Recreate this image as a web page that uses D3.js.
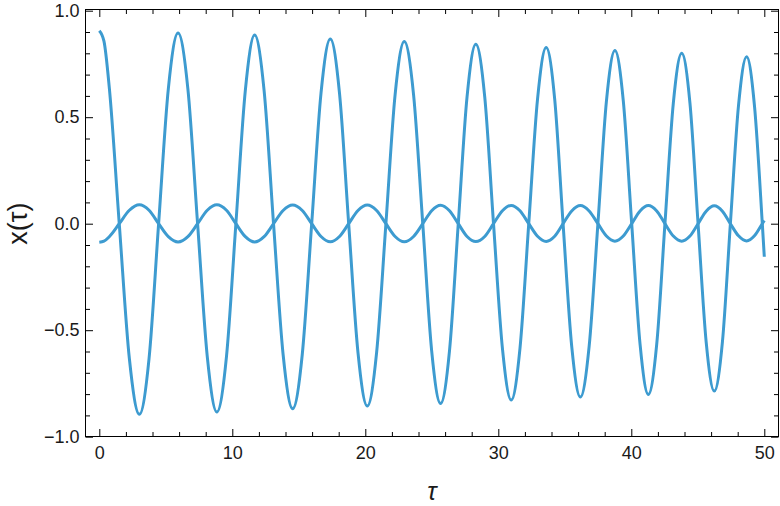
<!DOCTYPE html>
<html>
<head>
<meta charset="utf-8">
<script src="https://cdn.jsdelivr.net/npm/d3@7"></script>
<style>
  html, body { margin: 0; padding: 0; background: #fff; }
  svg { display: block; }
</style>
</head>
<body>
<svg id="chart" width="780" height="506"></svg>
<script>
// ---------------- data ----------------
const largeTau = [0.00,0.35,0.75,1.50,2.26,3.01,3.74,4.46,5.19,5.92,6.66,7.39,8.12,8.84,9.56,10.27,10.98,11.68,12.39,13.10,13.82,14.54,15.26,15.97,16.67,17.37,18.06,18.75,19.45,20.15,20.85,21.55,22.24,22.93,23.63,24.32,24.99,25.66,26.33,26.99,27.65,28.31,28.98,29.64,30.31,30.97,31.63,32.29,32.95,33.60,34.24,34.87,35.52,36.17,36.83,37.49,38.13,38.77,39.40,40.03,40.66,41.28,41.91,42.53,43.16,43.79,44.41,45.02,45.63,46.24,46.85,47.45,48.06,48.67,49.26,49.85,50.00];
const largeX = [0.906,0.857,0.640,0.000,-0.633,-0.895,-0.633,0.000,0.633,0.895,0.633,0.000,-0.625,-0.884,-0.625,0.000,0.626,0.886,0.626,0.000,-0.614,-0.869,-0.614,0.000,0.613,0.867,0.613,0.000,-0.605,-0.856,-0.605,0.000,0.605,0.855,0.605,0.000,-0.597,-0.844,-0.597,0.000,0.595,0.842,0.595,0.000,-0.585,-0.828,-0.585,0.000,0.585,0.827,0.585,0.000,-0.576,-0.814,-0.576,0.000,0.575,0.813,0.575,0.000,-0.567,-0.802,-0.567,0.000,0.566,0.800,0.566,0.000,-0.556,-0.786,-0.556,0.000,0.554,0.784,0.554,0.000,-0.155];

const smallTau = [0.00,0.35,0.75,1.50,2.26,3.01,3.74,4.46,5.19,5.92,6.66,7.39,8.12,8.84,9.56,10.27,10.98,11.68,12.39,13.10,13.82,14.54,15.26,15.97,16.67,17.37,18.06,18.75,19.45,20.15,20.85,21.55,22.24,22.93,23.63,24.32,24.99,25.66,26.33,26.99,27.65,28.31,28.98,29.64,30.31,30.97,31.63,32.29,32.95,33.60,34.24,34.87,35.52,36.17,36.83,37.49,38.13,38.77,39.40,40.03,40.66,41.28,41.91,42.53,43.16,43.79,44.41,45.02,45.63,46.24,46.85,47.45,48.06,48.67,49.26,49.85,50.00];
const smallX = [-0.087,-0.082,-0.061,0.000,0.063,0.089,0.063,0.000,-0.061,-0.086,-0.061,0.000,0.063,0.089,0.063,0.000,-0.061,-0.086,-0.061,0.000,0.062,0.088,0.062,0.000,-0.060,-0.085,-0.060,0.000,0.062,0.088,0.062,0.000,-0.060,-0.085,-0.060,0.000,0.061,0.087,0.061,0.000,-0.060,-0.084,-0.060,0.000,0.061,0.086,0.061,0.000,-0.059,-0.083,-0.059,0.000,0.060,0.085,0.060,0.000,-0.058,-0.082,-0.058,0.000,0.060,0.085,0.060,0.000,-0.058,-0.082,-0.058,0.000,0.059,0.084,0.059,0.000,-0.057,-0.081,-0.057,0.000,0.015];

const xMajorTicks = [0, 10, 20, 30, 40, 50];
const xMinorTicks = [2,4,6,8,12,14,16,18,22,24,26,28,32,34,36,38,42,44,46,48];
const yMajorTicks = [-1.0, -0.5, 0.0, 0.5, 1.0];
const yMinorTicks = [-0.9,-0.8,-0.7,-0.6,-0.4,-0.3,-0.2,-0.1,0.1,0.2,0.3,0.4,0.6,0.7,0.8,0.9];
const xLabel = "τ";
const yLabel = "x(τ)";

// ---------------- layout ----------------
const frame = { left: 85.5, right: 778.5, top: 9.5, bottom: 436.5 };
const lineColor = "#3d9bd0";
const textColor = "#1a1a1a";
const fontFamily = "'Liberation Sans', Arial, Helvetica, sans-serif";

const svg = d3.select("#chart");

const x = d3.scaleLinear().domain([0, 50]).range([99.3, 764.3]);
const y = d3.scaleLinear().domain([-1, 1]).range([436.7, 10.7]);

// frame
svg.append("rect")
  .attr("x", frame.left).attr("y", frame.top)
  .attr("width", frame.right - frame.left)
  .attr("height", frame.bottom - frame.top)
  .attr("fill", "none").attr("stroke", "#000").attr("stroke-width", 1);

// clip
svg.append("defs").append("clipPath").attr("id", "clip")
  .append("rect")
  .attr("x", frame.left).attr("y", frame.top)
  .attr("width", frame.right - frame.left)
  .attr("height", frame.bottom - frame.top);

function styleAxis(g, labels) {
  g.select(".domain").remove();
  g.selectAll(".tick line").attr("stroke", "#000").attr("stroke-width", 1);
  g.selectAll(".tick text")
    .attr("fill", textColor)
    .style("font-family", fontFamily)
    .style("font-size", "18px");
  if (!labels) g.selectAll(".tick text").remove();
}

const fmtY = d3.format(".1f");
const fmtX = d3.format("d");
const MAJ = 7.5, MIN = 4.5;

// bottom
svg.append("g").attr("transform", `translate(0,${frame.bottom})`)
  .call(d3.axisBottom(x).tickValues(xMajorTicks).tickFormat(fmtX).tickSizeInner(-MAJ).tickSizeOuter(0).tickPadding(10))
  .call(g => styleAxis(g, true));
svg.append("g").attr("transform", `translate(0,${frame.bottom})`)
  .call(d3.axisBottom(x).tickValues(xMinorTicks).tickSizeInner(-MIN).tickSizeOuter(0))
  .call(g => styleAxis(g, false));
// top
svg.append("g").attr("transform", `translate(0,${frame.top})`)
  .call(d3.axisTop(x).tickValues(xMajorTicks).tickSizeInner(-MAJ).tickSizeOuter(0))
  .call(g => styleAxis(g, false));
svg.append("g").attr("transform", `translate(0,${frame.top})`)
  .call(d3.axisTop(x).tickValues(xMinorTicks).tickSizeInner(-MIN).tickSizeOuter(0))
  .call(g => styleAxis(g, false));
// left
svg.append("g").attr("transform", `translate(${frame.left},0)`)
  .call(d3.axisLeft(y).tickValues(yMajorTicks).tickFormat(fmtY).tickSizeInner(-MAJ).tickSizeOuter(0).tickPadding(6))
  .call(g => styleAxis(g, true));
svg.append("g").attr("transform", `translate(${frame.left},0)`)
  .call(d3.axisLeft(y).tickValues(yMinorTicks).tickSizeInner(-MIN).tickSizeOuter(0))
  .call(g => styleAxis(g, false));
// right
svg.append("g").attr("transform", `translate(${frame.right},0)`)
  .call(d3.axisRight(y).tickValues(yMajorTicks).tickSizeInner(-MAJ).tickSizeOuter(0))
  .call(g => styleAxis(g, false));
svg.append("g").attr("transform", `translate(${frame.right},0)`)
  .call(d3.axisRight(y).tickValues(yMinorTicks).tickSizeInner(-MIN).tickSizeOuter(0))
  .call(g => styleAxis(g, false));

// series
const line = d3.line()
  .x(d => x(d[0]))
  .y(d => y(d[1]))
  .curve(d3.curveMonotoneX);

const plot = svg.append("g").attr("clip-path", "url(#clip)");
const series = [
  d3.zip(smallTau, smallX),
  d3.zip(largeTau, largeX)
];
plot.selectAll("path.series").data(series).join("path")
  .attr("class", "series")
  .attr("d", line)
  .attr("fill", "none")
  .attr("stroke", lineColor)
  .attr("stroke-width", 3)
  .attr("stroke-linejoin", "round")
  .attr("stroke-linecap", "butt");

// axis labels
svg.append("text")
  .attr("x", 432)
  .attr("y", 500)
  .attr("text-anchor", "middle")
  .attr("fill", textColor)
  .style("font-family", fontFamily)
  .style("font-size", "25px")
  .style("font-style", "italic")
  .text(xLabel);

svg.append("text")
  .attr("transform", `translate(27,${y(0)}) rotate(-90)`)
  .attr("text-anchor", "middle")
  .attr("fill", textColor)
  .style("font-family", fontFamily)
  .style("font-size", "27px")
  .text(yLabel);
</script>
</body>
</html>
